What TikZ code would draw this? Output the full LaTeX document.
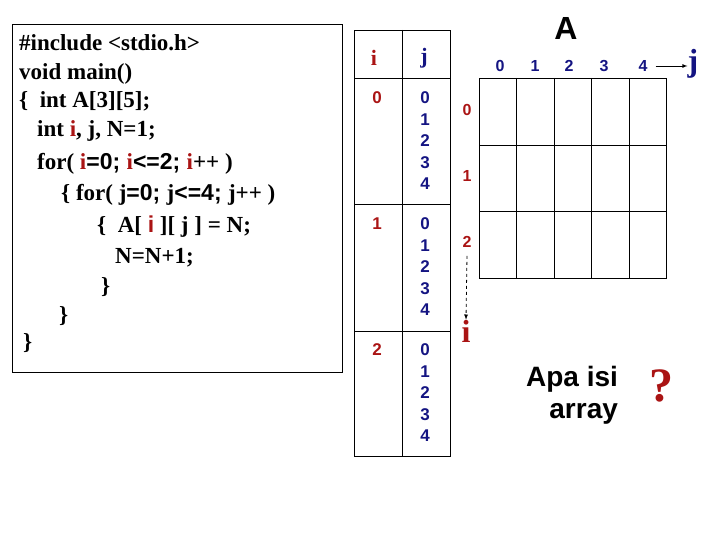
\documentclass[tikz,border=0pt]{standalone}
\usepackage{fontspec}
\setmainfont{Liberation Serif}
\setsansfont{Liberation Sans}
\begin{document}
\begin{tikzpicture}[x=1pt,y=-1pt,
  code/.style={anchor=base west,inner sep=0pt,font=\fontsize{23}{24}\selectfont\bfseries},
  num/.style={inner sep=0pt,font=\fontsize{17}{18}\selectfont\sffamily\bfseries,text=navy},
  rnum/.style={num,text=dred},
  ln/.style={line width=0.8pt}]
\definecolor{navy}{RGB}{20,20,130}
\definecolor{dred}{RGB}{170,20,20}
\useasboundingbox (0,0) rectangle (720,540);
\newcommand\ri{\textcolor{dred}{i}}
\newcommand\sfb[1]{{\sffamily #1}}
% code box
\draw[ln] (12,24) rectangle (342,372);
\node[code] (c1) at (19,51) {\#include <stdio.h>};
\node[code] (c2) at (19,80) {void main()};
\node[code] (c3) at (19,108) {\{\ \ int A[3][5];};
\node[code] (c4) at (37,137) {int \ri, j, N=1;};
\node[code] (c5) at (37,170) {for( \ri\sfb{=0; }\ri\sfb{<=2; }\ri++ )};
\node[code] (c6) at (61,201) {\{ for( j\sfb{=0; }j\sfb{<=4; }j++ )};
\node[code] (c7) at (97,233) {\{\ \ A[ \textcolor{dred}{\sffamily i} ][ j ] = N;};
\node[code] (c8) at (115,263) {N=N+1;};
\node[code] (c9) at (101,293) {\}};
\node[code] (c10) at (59,322) {\}};
\node[code] (c11) at (23,349) {\}};
% trace table
\draw[ln] (354,30) rectangle (450,456);
\draw[ln] (402,30) -- (402,456);
\draw[ln] (354,78) -- (450,78);
\draw[ln] (354,204) -- (450,204);
\draw[ln] (354,331) -- (450,331);
\node[inner sep=0pt,text=dred,font=\fontsize{22}{22}\selectfont\bfseries] (hi) at (374,58) {i};
\node[inner sep=0pt,text=navy,font=\fontsize{22}{22}\selectfont\bfseries] (hj) at (424,58) {j};
\foreach \r/\y in {0/98,1/224,2/350}{
  \node[rnum] (ti\r) at (377,\y) {\r};
  \foreach \k in {0,...,4}{\node[num] (tj\r\k) at (425,\y+21.5*\k) {\k};}
}
% grid
\draw[ln] (479,78) rectangle (666,278);
\foreach \x in {516,554,591,629}{\draw[ln] (\x,78) -- (\x,278);}
\foreach \y in {145,211}{\draw[ln] (479,\y) -- (666,\y);}
\node[font=\fontsize{32}{32}\selectfont\sffamily\bfseries,inner sep=0pt] (A) at (566,28) {A};
\foreach \k/\x in {0/500,1/535,2/569,3/604,4/643}{\node[num,font=\fontsize{16}{16}\selectfont\sffamily\bfseries] (cj\k) at (\x,66) {\k};}
\foreach \k/\y in {0/110,1/176,2/242}{\node[rnum,font=\fontsize{16}{16}\selectfont\sffamily\bfseries] (ri\k) at (467,\y) {\k};}
\node[inner sep=0pt,text=navy,font=\fontsize{32}{32}\selectfont\bfseries] (bj) at (693,64) {j};
\draw[ln,-latex] (cj4.east)++(8,0) coordinate (ja) -- (ja -| bj.west);
\node[inner sep=0pt,text=dred,font=\fontsize{32}{32}\selectfont\bfseries] (bi) at (466,331) {i};
\draw[ln,dashed,-latex] (ri2.south)++(0,8) coordinate (ia) -- (bi.north);
\node[align=right,inner sep=0pt,font=\fontsize{28}{32}\selectfont\sffamily\bfseries] (q) at (572,395) {Apa isi\\array};
\node[inner sep=0pt,text=dred,font=\fontsize{48}{48}\selectfont\bfseries] (qm) at (661,386) {?};
\end{tikzpicture}
\end{document}
